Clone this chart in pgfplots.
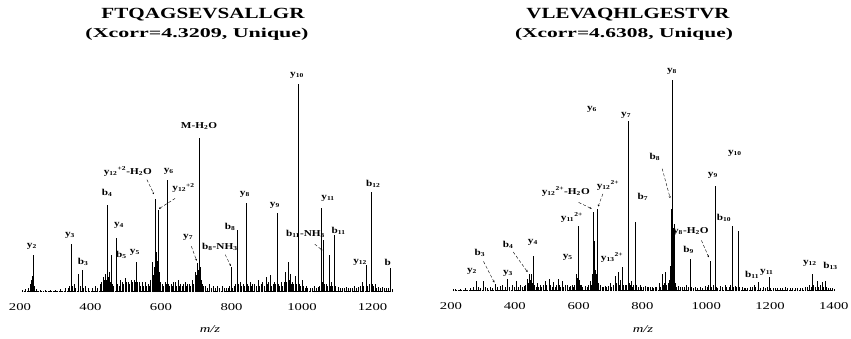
\documentclass[border=0pt]{standalone}
\usepackage{pgfplots}
\pgfplotsset{compat=1.18}
\usetikzlibrary{arrows.meta}
\usepackage{fontspec}
\usepackage{graphicx}
\setmainfont{Liberation Serif}
\newcommand\sx[1]{\scalebox{1.4}[1]{#1}}
\newcommand\lb[1]{\scalebox{1.25}[1]{#1}}
\begin{document}
\begin{tikzpicture}
\tikzset{pl/.style={font=\bfseries\fontsize{9}{9}\selectfont, inner sep=0pt},
         ar/.style={densely dashed, line width=0.4pt, -{Stealth[length=2pt,width=2pt]}}}
\path[use as bounding box] (0pt,0pt) rectangle (851pt,338pt);
\node[font=\bfseries\fontsize{15.5}{16}\selectfont] at (203pt,323pt) {\resizebox{203pt}{\height}{FTQAGSEVSALLGR}};
\node[font=\bfseries\fontsize{13.5}{14}\selectfont] at (197pt,304pt) {\resizebox{223pt}{\height}{(Xcorr=4.3209, Unique)}};
\node[font=\bfseries\fontsize{15.5}{16}\selectfont] at (628pt,323pt) {\resizebox{203pt}{\height}{VLEVAQHLGESTVR}};
\node[font=\bfseries\fontsize{13.5}{14}\selectfont] at (624pt,304pt) {\resizebox{218pt}{\height}{(Xcorr=4.6308, Unique)}};
\node[font=\itshape\fontsize{10.5}{10.5}\selectfont] at (210pt,9pt) {\sx{m/z}};
\node[font=\itshape\fontsize{10.5}{10.5}\selectfont] at (643pt,9pt) {\sx{m/z}};

\pgfplotsset{msax/.style={scale only axis, anchor=south west, ymin=0, ymax=100, clip=false,
  axis x line*=bottom, axis y line=none, x axis line style={draw=none},
  tick style={draw=none}, ytick=\empty,
  xticklabel style={font=\fontsize{10.5}{10.5}\selectfont, yshift=-8pt}}}

% ---------------- left spectrum ----------------
\begin{axis}[msax, at={(20pt,46pt)}, width=373.7pt, height=208pt, xmin=200, xmax=1260,
  xtick={200,400,600,800,1000,1200},
  xticklabels={\sx{200},\sx{400},\sx{600},\sx{800},\sx{1000},\sx{1200}}]
\addplot[black, densely dotted, line width=0.6pt, no marks] coordinates {(206,0.5) (1258,0.5)};
\addplot[ycomb, black, line width=0.6pt, no marks] coordinates {
(206,1)(214,1.5)(223,2)(228,4)(231,5.8)(234,7.7)(237,17.8)(240,3)(245,1.5)(257,1)(271,1)(285,1)(299,1)(313,1.5)(328,2)(336,2)(340,3)(345,23)(349,3)(353,4)(358,2)(365,8.7)(370,3)(376,10.6)(380,2)(384,3)(393,2)(404,2)(413,3)(420,2)(427,4)(431,5)(435,7.2)(438,6)(441,8.7)(444,6)(447,41.8)(450,7)(452,9.6)(455,5)(458,17.8)(462,4)(466,3)(472,26)(476,4)(481,3)(485,6)(489,5)(494,4)(498,6.7)(502,5)(506,5)(510,4)(515,6)(519,5)(523,6)(526,5)(529,14.4)(533,5)(538,5)(542,3)(546,5)(550,3)(555,5)(559,3)(563,4)(568,3)(571,6)(574,14.4)(578,8)(581,12)(583,44.7)(585,20)(587,19)(589,15)(591,39.4)(593,12)(595,9.6)(598,5)(603,4)(607,3)(611,5)(614,4)(617,53.8)(620,4)(624,3)(628,4)(633,3)(636,5)(640,5)(644,3)(648,6)(652,3)(656,4)(660,3)(664,4)(668,5)(672,3)(675,4)(679,4)(684,3)(688,6)(692,4)(696,9.6)(699,8)(702,14)(705,10.6)(708,74)(711,12)(713,6)(716,4)(720,3)(725,3)(730,2)(736,4)(742,2)(748,3)(754,2)(759,3)(765,2)(773,3)(779,2)(784,2)(790,2)(795,3)(799,12)(803,2)(807,3)(812,4)(816,29.8)(820,4)(824,5)(829,3)(833,4)(837,3)(841,42.8)(845,4)(848,3)(852,5)(857,3)(860,4)(864,4)(869,3)(875,6)(880,3)(884,4)(887,5)(892,3)(898,7)(902,4)(905,5)(909,8)(914,3)(918,4)(921,5)(925,4)(929,38)(933,4)(936,3)(940,5)(945,3)(949,5)(952,9.6)(956,5)(960,14.4)(963,6)(966,8.7)(969,4)(972,5)(976,4)(980,7.7)(984,4)(989,100)(993,4)(996,3)(1000,6)(1004,3)(1008,2)(1011,3)(1016,2)(1023,2)(1028,2)(1034,3)(1040,2)(1045,2.5)(1050,3)(1054,40.4)(1057,5)(1060,25)(1064,4)(1068,4)(1072,3)(1077,17.8)(1080,3)(1082,5)(1086,3)(1091,27.4)(1095,3)(1102,2.5)(1108,2)(1113,2)(1119,2)(1125,2.5)(1131,2)(1136,2)(1142,2)(1148,3)(1154,2)(1159,2.5)(1165,3)(1170,5)(1175,3)(1182,13)(1186,3)(1190,4)(1196,48)(1200,4)(1203,3)(1207,4)(1212,2)(1216,2.5)(1222,2)(1227,2.5)(1233,2)(1238,2)(1244,2)(1250,11.5)(1255,1.5)};
\node[pl] at (axis cs:234,22) {\lb{y\textsubscript{2}}};
\node[pl] at (axis cs:342,27) {\lb{y\textsubscript{3}}};
\node[pl] at (axis cs:379,14.4) {\lb{b\textsubscript{3}}};
\node[pl] at (axis cs:447,47.5) {\lb{b\textsubscript{4}}};
\node[pl] at (axis cs:481,32) {\lb{y\textsubscript{4}}};
\node[pl] at (axis cs:488,17.8) {\lb{b\textsubscript{5}}};
\node[pl] at (axis cs:526,19) {\lb{y\textsubscript{5}}};
\node[pl] at (axis cs:506,58) {\lb{y\textsubscript{12}\textsuperscript{+2}-H\textsubscript{2}O}};
\node[pl] at (axis cs:622,58) {\lb{y\textsubscript{6}}};
\node[pl] at (axis cs:664,50) {\lb{y\textsubscript{12}\textsuperscript{+2}}};
\node[pl] at (axis cs:708,80) {\lb{M-H\textsubscript{2}O}};
\node[pl] at (axis cs:677,26.4) {\lb{y\textsubscript{7}}};
\node[pl] at (axis cs:767,21.6) {\lb{b\textsubscript{8}-NH\textsubscript{3}}};
\node[pl] at (axis cs:796,31.5) {\lb{b\textsubscript{8}}};
\node[pl] at (axis cs:838,47) {\lb{y\textsubscript{8}}};
\node[pl] at (axis cs:923,41.5) {\lb{y\textsubscript{9}}};
\node[pl] at (axis cs:986,104) {\lb{y\textsubscript{10}}};
\node[pl] at (axis cs:1074,45) {\lb{y\textsubscript{11}}};
\node[pl] at (axis cs:1010,28) {\lb{b\textsubscript{11}-NH\textsubscript{3}}};
\node[pl] at (axis cs:1104,29.5) {\lb{b\textsubscript{11}}};
\node[pl] at (axis cs:1165,14.4) {\lb{y\textsubscript{12}}};
\node[pl] at (axis cs:1202,52) {\lb{b\textsubscript{12}}};
\node[pl] at (axis cs:1243,14) {\lb{b}};
\draw[ar] (axis cs:560,54) -- (axis cs:580,47);
\draw[ar] (axis cs:640,45) -- (axis cs:594,40);
\draw[ar] (axis cs:686,22) -- (axis cs:701,15);
\draw[ar] (axis cs:782,18) -- (axis cs:798,12.5);
\draw[ar] (axis cs:1036,23) -- (axis cs:1058,20);
\end{axis}

% ---------------- right spectrum ----------------
\begin{axis}[msax, at={(451pt,47pt)}, width=386pt, height=211pt, xmin=200, xmax=1410,
  xtick={200,400,600,800,1000,1200,1400},
  xticklabels={\sx{200},\sx{400},\sx{600},\sx{800},\sx{1000},\sx{1200},\sx{1400}}]
\addplot[black, densely dotted, line width=0.6pt, no marks] coordinates {(206,0.5) (1400,0.5)};
\addplot[ycomb, black, line width=0.6pt, no marks] coordinates {
(206,1)(215,1)(228,1)(244,1.5)(260,1.5)(270,2)(278,4.7)(285,2)(292,1.5)(300,4.7)(307,2)(315,1.5)(322,2)(330,1.5)(338,3.3)(346,2)(354,2.4)(362,3)(370,2)(376,5.7)(383,2)(391,2.8)(398,2)(404,4.7)(410,2)(416,2.8)(422,2)(429,2.4)(434,3)(438,5.7)(441,4)(445,8)(448,5)(451,8)(454,4)(457,16.6)(461,3)(466,2)(470,3.8)(475,2)(479,2.8)(484,2)(489,3)(495,4.7)(500,3)(507,5.7)(512,3)(516,2)(520,4.3)(526,2)(531,3)(535,5.7)(540,3)(544,2)(548,4.7)(553,2)(558,3)(564,2.8)(570,2)(575,2.5)(579,2.8)(583,2)(588,3)(592,8)(595,6)(598,30.8)(601,5)(604,3)(608,2.8)(613,2)(620,2.4)(626,2)(631,3)(636,4.7)(640,3)(643,8)(645,37.4)(647,20)(650,23.7)(653,10)(656,8)(658,38.9)(661,4)(667,2.8)(673,2)(678,2)(683,2.4)(688,2)(693,2.5)(698,3.8)(703,2)(708,3)(714,7)(719,4)(724,9)(728,3)(731,5)(736,11.4)(740,3)(745,2.8)(750,3)(755,80.6)(758,4)(761,3)(764,4.7)(768,2)(772,3)(777,32.7)(781,3)(786,2)(792,2.8)(798,2)(804,2)(808,2.4)(814,2)(819,2)(824,1.9)(830,2)(834,1.5)(839,2)(845,2)(852,3.8)(857,2)(861,8)(865,3)(868,4)(871,9)(875,3)(880,3.8)(884,5)(887,12)(890,38.9)(892,32)(893,100)(896,30)(899,31.8)(902,4)(906,2)(912,2.4)(918,2)(924,1.9)(930,2)(937,2.8)(943,2)(949,15.2)(953,2)(958,1.5)(965,1.9)(972,1.5)(981,1.9)(988,1.5)(996,2.4)(1002,2)(1007,3)(1012,14.2)(1016,2)(1022,3)(1028,49.8)(1032,2)(1036,1.5)(1043,2.4)(1050,2)(1059,2.8)(1064,2)(1071,1.9)(1076,3)(1081,30.8)(1085,2)(1090,2.4)(1095,2)(1100,28.4)(1105,2)(1112,1.9)(1118,1.5)(1122,1.4)(1130,1.5)(1137,1.9)(1143,2)(1150,2.8)(1155,2)(1162,4.3)(1168,1.5)(1178,1.9)(1185,1.5)(1192,2)(1197,6.6)(1202,1.5)(1210,1.5)(1216,1.4)(1224,1.2)(1231,1.4)(1240,1.5)(1247,1.9)(1255,1.5)(1263,1.4)(1270,1.2)(1278,1.4)(1286,1.2)(1294,1.4)(1302,1.5)(1310,1.9)(1316,2)(1322,2.8)(1328,2)(1332,8)(1336,3)(1341,2)(1347,4.7)(1352,2)(1357,3)(1363,4.3)(1368,2)(1372,4.7)(1378,2)(1384,1.5)(1388,1.4)(1395,1.2)(1400,1)};
\node[pl] at (axis cs:266,9.5) {\lb{y\textsubscript{2}}};
\node[pl] at (axis cs:291,18) {\lb{b\textsubscript{3}}};
\node[pl] at (axis cs:379,8.5) {\lb{y\textsubscript{3}}};
\node[pl] at (axis cs:379,22) {\lb{b\textsubscript{4}}};
\node[pl] at (axis cs:457,23) {\lb{y\textsubscript{4}}};
\node[pl] at (axis cs:566,16) {\lb{y\textsubscript{5}}};
\node[pl] at (axis cs:579,35) {\lb{y\textsubscript{11}\textsuperscript{2+}}};
\node[pl] at (axis cs:560,47) {\lb{y\textsubscript{12}\textsuperscript{2+}-H\textsubscript{2}O}};
\node[pl] at (axis cs:692,50) {\lb{y\textsubscript{12}\textsuperscript{2+}}};
\node[pl] at (axis cs:705,16) {\lb{y\textsubscript{13}\textsuperscript{2+}}};
\node[pl] at (axis cs:642,86) {\lb{y\textsubscript{6}}};
\node[pl] at (axis cs:749,83.4) {\lb{y\textsubscript{7}}};
\node[pl] at (axis cs:893,104) {\lb{y\textsubscript{8}}};
\node[pl] at (axis cs:839,63.5) {\lb{b\textsubscript{8}}};
\node[pl] at (axis cs:802,44.5) {\lb{b\textsubscript{7}}};
\node[pl] at (axis cs:1090,65) {\lb{y\textsubscript{10}}};
\node[pl] at (axis cs:1021,55) {\lb{y\textsubscript{9}}};
\node[pl] at (axis cs:1056,34.6) {\lb{b\textsubscript{10}}};
\node[pl] at (axis cs:952,28) {\lb{y\textsubscript{8}-H\textsubscript{2}O}};
\node[pl] at (axis cs:945,19.4) {\lb{b\textsubscript{9}}};
\node[pl] at (axis cs:1144,7.6) {\lb{b\textsubscript{11}}};
\node[pl] at (axis cs:1190,9) {\lb{y\textsubscript{11}}};
\node[pl] at (axis cs:1325,13.3) {\lb{y\textsubscript{12}}};
\node[pl] at (axis cs:1390,11.8) {\lb{b\textsubscript{13}}};
\draw[ar] (axis cs:302,14) -- (axis cs:336,4);
\draw[ar] (axis cs:395,18.5) -- (axis cs:440,9);
\draw[ar] (axis cs:600,42) -- (axis cs:641,39);
\draw[ar] (axis cs:676,46) -- (axis cs:661,40);
\draw[ar] (axis cs:862,58) -- (axis cs:887,44);
\draw[ar] (axis cs:985,24) -- (axis cs:1008,16);
\end{axis}
\end{tikzpicture}
\end{document}
